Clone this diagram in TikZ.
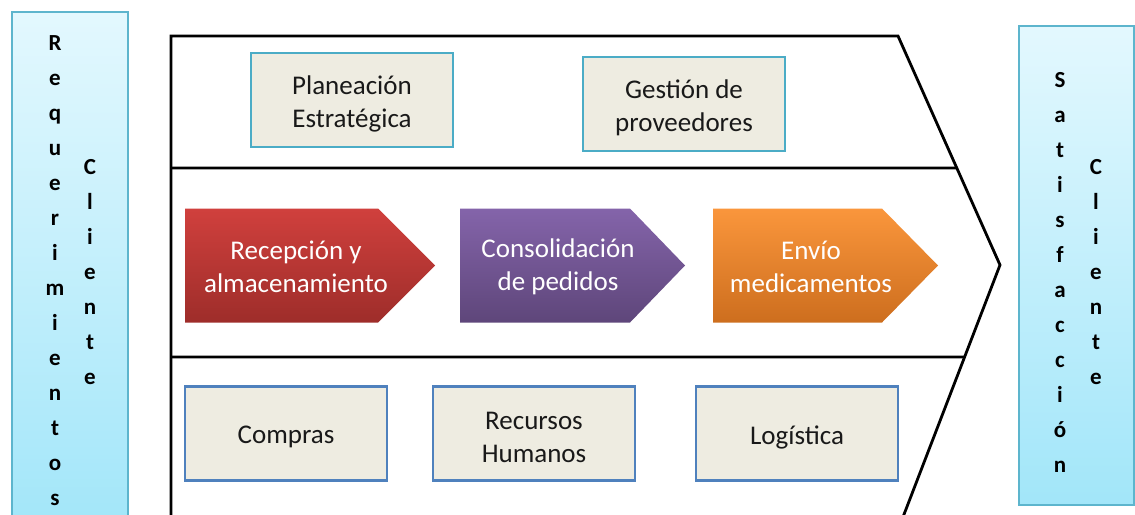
\documentclass[tikz,border=0pt]{standalone}
\usepackage{fontspec}
\setmainfont{Carlito}
\usepackage{tikz}

\definecolor{boxfill}{HTML}{EEECE1}
\definecolor{tealline}{HTML}{4BACC6}
\definecolor{blueline}{HTML}{4F81BD}
\definecolor{paneltop}{HTML}{E3F8FE}
\definecolor{panelbot}{HTML}{A2E6F9}
\definecolor{panelline}{HTML}{5DB5CD}
\definecolor{redtop}{RGB}{208,64,61}
\definecolor{redbot}{RGB}{158,45,42}
\definecolor{purtop}{RGB}{132,100,170}
\definecolor{purbot}{RGB}{94,70,122}
\definecolor{orgtop}{RGB}{250,150,60}
\definecolor{orgbot}{RGB}{205,110,30}

\begin{document}
\begin{tikzpicture}[
    x=1pt, y=-1pt,
    panel/.style={draw=panelline, line width=1.5pt, top color=paneltop, bottom color=panelbot},
    letters/.style={align=center, inner sep=0pt, font=\fontsize{23}{35}\selectfont\bfseries},
    greybox/.style={rectangle, fill=boxfill, line width=2.5pt, minimum width=202pt,
        minimum height=94pt},
    boxtext/.style={align=center, yshift=-3.5pt, text=black!90, font=\fontsize{27}{33}\selectfont},
    topbox/.style={greybox, draw=tealline},
    lowbox/.style={greybox, draw=blueline},
    proctext/.style={align=center, text=white, font=\fontsize{27}{33}\selectfont}]
    \useasboundingbox (0,0) rectangle (1135,514);
    \clip (0,0) rectangle (1135,514);

    % Side panels
    \path[panel] (12,12) rectangle (128,530);
    \path[panel] (1019,26) rectangle (1134,505);
    \node[letters] (req) at (55,271) {R\\e\\q\\u\\e\\r\\i\\m\\i\\e\\n\\t\\o\\s};
    \node[letters] (cli1) at (90,272) {C\\l\\i\\e\\n\\t\\e};
    \node[letters] (sat) at (1060,272) {S\\a\\t\\i\\s\\f\\a\\c\\c\\i\\ó\\n};
    \node[letters] (cli2) at (1096,272) {C\\l\\i\\e\\n\\t\\e};

    % Chevron
    \coordinate (tl) at (171,36);
    \coordinate (tr) at (898,36);
    \coordinate (tip) at (1000,265);
    \coordinate (br) at (898,530);
    \draw[line width=2.8pt, line join=miter] (171,530) -- (tl) -- (tr) -- (tip) -- (br);
    \draw[line width=2.8pt] (171,168) -- (intersection of 171,168--1200,168 and tr--tip);
    \draw[line width=2.8pt] (171,357) -- (intersection of 171,357--1200,357 and tip--br);

    % Top row
    \node[topbox, label={[boxtext]center:{Planeación\\Estratégica}}] (plan) at (352,100) {};
    \node[topbox, label={[boxtext]center:{Gestión de\\proveedores}}] (gest) at (684,104) {};

    % Process arrows
    \path[top color=redtop, bottom color=redbot]
        (185,208.5) -- (378,208.5) -- (435,265.5) -- (378,322.5) -- (185,322.5) -- cycle;
    \node[proctext] (recep) at (296,267) {Recepción y\\almacenamiento};
    \path[top color=purtop, bottom color=purbot]
        (460,208.5) -- (630,208.5) -- (685,265.5) -- (630,322.5) -- (460,322.5) -- cycle;
    \node[proctext] (consol) at (558,267) {Consolidación\\de pedidos};
    \path[top color=orgtop, bottom color=orgbot]
        (713,208.5) -- (882,208.5) -- (938,265.5) -- (882,322.5) -- (713,322.5) -- cycle;
    \node[proctext] (envio) at (811,267) {Envío\\medicamentos};

    % Bottom row
    \node[lowbox, label={[boxtext]center:Compras}] (comp) at (286,433.5) {};
    \node[lowbox, label={[boxtext]center:{Recursos\\Humanos}}] (rrhh) at (534,433.5) {};
    \node[lowbox, label={[boxtext]center:Logística}] (logi) at (797,433.5) {};
\end{tikzpicture}
\end{document}
